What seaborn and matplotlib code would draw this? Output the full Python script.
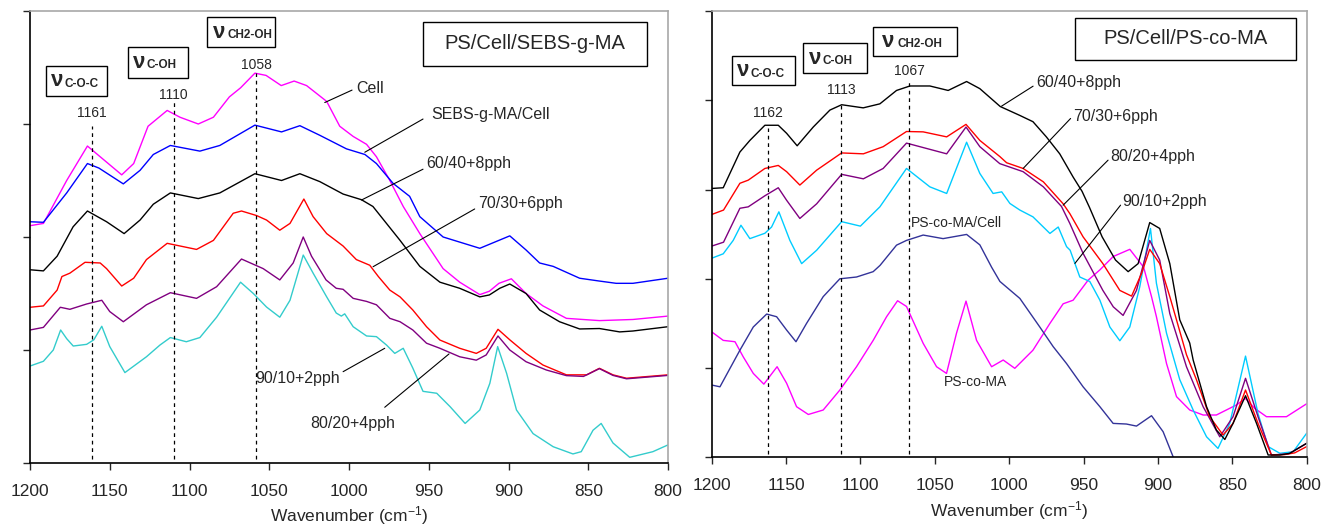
import matplotlib
matplotlib.use("Agg")
import matplotlib.pyplot as plt
from matplotlib.patches import Rectangle
import pandas as pd
import seaborn as sns

# ---------------- PS/Cell/SEBS-g-MA spectra (absorbance, arbitrary offset units) ----------------
sebs_cell_wn = [1200, 1191.6, 1177, 1164, 1156, 1142.5, 1135, 1126, 1114, 1106, 1094.5, 1085, 1075, 1068,
                1059, 1052, 1042.5, 1034.4, 1026.6, 1014, 1005.8, 997.4, 989, 982.8, 974.4, 966, 955.6, 941,
                930.6, 918, 912, 906, 898.2, 889, 878.4, 863.7, 843, 822, 800]
sebs_cell_abs = [2.10, 2.12, 2.50, 2.805, 2.71, 2.55, 2.65, 2.98, 3.12, 3.06, 3.00, 3.06, 3.24, 3.32,
                 3.45, 3.43, 3.34, 3.38, 3.34, 3.20, 2.98, 2.89, 2.82, 2.71, 2.50, 2.27, 2.03, 1.72,
                 1.60, 1.49, 1.52, 1.59, 1.63, 1.50, 1.39, 1.28, 1.26, 1.27, 1.30]

sebs_blend_wn = [1200, 1191.6, 1177, 1164, 1156.8, 1141.5, 1131, 1122.7, 1112, 1093.5, 1081, 1059, 1042.3,
                 1030.8, 1018.3, 1001.6, 990, 982.8, 972.4, 962, 955.6, 941, 918, 899.2, 889, 880.5, 872,
                 855.4, 843, 832.5, 822, 800]
sebs_blend_abs = [2.135, 2.13, 2.39, 2.65, 2.61, 2.47, 2.59, 2.73, 2.81, 2.76, 2.81, 2.99, 2.93,
                  2.985, 2.90, 2.78, 2.73, 2.65, 2.475, 2.36, 2.18, 2.00, 1.90, 2.01, 1.885, 1.77, 1.74,
                  1.635, 1.61, 1.59, 1.59, 1.635]

sebs_60_wn = [1200, 1191.6, 1183, 1173, 1164, 1152, 1141, 1131, 1122.7, 1112, 1094.5, 1081, 1059, 1042.3,
              1030.8, 1018.3, 1003.7, 992.2, 985, 976.5, 968, 955.6, 943, 930.6, 918, 912, 905.5, 899.2,
              889, 880.5, 868, 855.4, 843, 830.3, 822, 800]
sebs_60_abs = [1.71, 1.70, 1.83, 2.09, 2.23, 2.135, 2.03, 2.15, 2.29, 2.39, 2.34, 2.39, 2.56, 2.50,
               2.56, 2.49, 2.38, 2.33, 2.27, 2.12, 1.97, 1.74, 1.60, 1.546, 1.47, 1.487, 1.546, 1.584,
               1.50, 1.354, 1.25, 1.186, 1.19, 1.16, 1.168, 1.206]

sebs_70_wn = [1200, 1191.6, 1183, 1180, 1175, 1165.5, 1156, 1152, 1142.5, 1135, 1127, 1114, 1095.6, 1085,
              1072.6, 1067.4, 1058, 1051.7, 1043.4, 1037, 1028.3, 1022.5, 1014, 1003.7, 995.4, 987, 981.6,
              974.4, 968, 960, 951.4, 943, 930.6, 920.2, 914, 906.6, 899.2, 889, 878.4, 863.7, 851, 843,
              834.5, 826, 800]
sebs_70_abs = [1.378, 1.39, 1.53, 1.65, 1.68, 1.776, 1.77, 1.72, 1.566, 1.635, 1.80, 1.944, 1.89, 1.97,
               2.21, 2.23, 2.19, 2.15, 2.06, 2.12, 2.336, 2.18, 2.03, 1.92, 1.80, 1.75, 1.65,
               1.53, 1.47, 1.354, 1.206, 1.088, 1.015, 0.97, 1.015, 1.183, 1.09, 0.97, 0.867, 0.78, 0.78, 0.838,
               0.78, 0.75, 0.78]

sebs_80_wn = [1200, 1191.6, 1181, 1175, 1164.5, 1155, 1150, 1141.5, 1127, 1112, 1095.6, 1083, 1067.4, 1053.8,
              1043.4, 1035, 1028.7, 1023.5, 1014.4, 1008, 1003.7, 997.4, 989, 982.8, 974.4, 968, 960, 951.4,
              943, 930.6, 920.2, 914, 906.6, 899.2, 889, 876.3, 863.7, 853, 843, 834.5, 826, 800]
sebs_80_abs = [1.177, 1.20, 1.378, 1.36, 1.407, 1.44, 1.34, 1.25, 1.40, 1.507, 1.457, 1.56, 1.805, 1.72,
               1.62, 1.77, 2.00, 1.83, 1.62, 1.546, 1.537, 1.457, 1.43, 1.40, 1.28, 1.25, 1.177, 1.06,
               1.015, 0.94, 0.91, 0.956, 1.124, 1.0, 0.896, 0.823, 0.773, 0.766, 0.835, 0.775, 0.745, 0.775]

sebs_90_wn = [1200, 1191.6, 1185.4, 1180.8, 1177, 1172.9, 1164.5, 1160, 1155, 1150, 1140.5, 1127, 1118.5, 1112,
              1102, 1093.5, 1083, 1068, 1060, 1051.7, 1043.4, 1037, 1028.7, 1022.5, 1014, 1008, 1004.8, 1002.7,
              997.4, 989, 982.8, 976.5, 971.3, 966, 960, 953.6, 945, 936.6, 927.2, 918, 911.7, 906.8, 901.2,
              895, 884.6, 872, 859.6, 854.4, 847, 841.9, 834.5, 824, 809.5, 800]
sebs_90_abs = [0.858, 0.90, 1.0, 1.177, 1.10, 1.035, 1.05, 1.09, 1.21, 1.03, 0.80, 0.94, 1.044, 1.11,
               1.073, 1.11, 1.29, 1.60, 1.50, 1.38, 1.29, 1.44, 1.84, 1.68, 1.47, 1.327, 1.30, 1.32,
               1.206, 1.124, 1.118, 1.044, 0.97, 1.015, 0.84, 0.634, 0.617, 0.498, 0.35, 0.469, 0.705, 1.03, 0.794,
               0.469, 0.26, 0.144, 0.08, 0.10, 0.29, 0.35, 0.177, 0.05, 0.10, 0.16]

# ---------------- PS/Cell/PS-co-MA spectra ----------------
psma_60_wn = [1200, 1192.2, 1181, 1174.3, 1164.2, 1155.2, 1149.6, 1142.5, 1131.7, 1120.5, 1112.6, 1098.1, 1086.9,
              1075.7, 1066.7, 1053.3, 1041, 1028.6, 1019.7, 1006, 992.8, 984, 975, 966, 957, 951, 946, 937.5,
              928.5, 920, 913.3, 905.5, 898.8, 892, 885.3, 878.6, 876.3, 867.3, 860.7, 855, 849.5, 841.1, 833.7,
              825.9, 818, 811.3, 800]
psma_60_abs = [3.012, 3.02, 3.42, 3.55, 3.72, 3.72, 3.63, 3.49, 3.70, 3.89, 3.95, 3.915, 3.96,
               4.11, 4.16, 4.16, 4.11, 4.21, 4.13, 3.93, 3.83, 3.76, 3.59, 3.40, 3.14, 2.98, 2.80, 2.47,
               2.21, 2.08, 2.17, 2.63, 2.564, 2.17, 1.54, 1.28, 1.09, 0.567, 0.306, 0.20, 0.38, 0.69, 0.38,
               0.026, 0.026, 0.045, 0.157]

psma_70_wn = [1200, 1192, 1181, 1175.4, 1164.2, 1155.2, 1149.6, 1140.7, 1129.4, 1112.6, 1098, 1084.7, 1069,
              1057.8, 1042, 1029, 1019.7, 1006.3, 1001.7, 990.6, 977, 963.7, 959.2, 950.3, 937, 925.6, 917.7,
              911, 905.5, 898.8, 892, 887.5, 880.8, 874.1, 865.2, 856.2, 849.5, 841.1, 832.7, 823.7, 815, 808, 800]
psma_70_abs = [2.72, 2.77, 3.07, 3.105, 3.236, 3.27, 3.20, 3.05, 3.217, 3.41, 3.40, 3.48, 3.65,
               3.646, 3.59, 3.73, 3.55, 3.37, 3.30, 3.236, 3.086, 2.84, 2.73, 2.47, 2.17, 1.87, 1.806,
               2.06, 2.33, 2.17, 1.80, 1.54, 1.15, 0.87, 0.455, 0.25, 0.38, 0.754, 0.38, 0.026, 0.03, 0.05, 0.12]

psma_80_wn = [1200, 1192, 1181, 1175.4, 1164.2, 1155.2, 1149.6, 1140.7, 1129.4, 1112.6, 1098, 1084.7, 1069,
              1042, 1029, 1019.7, 1006.3, 990.6, 977, 964.8, 959.2, 950.3, 937, 930, 923.4, 914.4, 905.5,
              898.8, 892, 880.8, 869.6, 858.4, 849.5, 841.1, 832.7, 823.7, 812, 800]
psma_80_abs = [2.366, 2.41, 2.79, 2.806, 2.93, 3.02, 2.88, 2.676, 2.84, 3.17, 3.12, 3.236, 3.52,
               3.40, 3.70, 3.48, 3.29, 3.20, 3.03, 2.81, 2.62, 2.285, 1.87, 1.686, 1.59, 1.87, 2.43,
               2.21, 1.61, 1.015, 0.567, 0.23, 0.455, 0.885, 0.455, 0.026, 0.04, 0.157]

psma_90_wn = [1200, 1192.2, 1185.5, 1180.3, 1174.3, 1164.2, 1159.7, 1154.8, 1147.4, 1139.5, 1129.4, 1112.6, 1100,
              1086.9, 1069, 1053.3, 1042, 1028.6, 1019.7, 1010.8, 1005, 999.5, 992.8, 984, 972.6, 967, 961.4,
              959, 952.5, 945.8, 939, 932.3, 925.6, 918.9, 912.2, 905, 901, 894.2, 885.3, 876.3, 867.3, 859.6,
              851.7, 841.1, 832.7, 825.9, 818, 809, 800]
psma_90_abs = [2.23, 2.28, 2.43, 2.60, 2.45, 2.51, 2.58, 2.75, 2.43, 2.17, 2.32, 2.64, 2.59,
               2.806, 3.236, 3.03, 2.956, 3.53, 3.18, 2.956, 2.974, 2.844, 2.77, 2.694, 2.508, 2.58, 2.36,
               2.32, 2.02, 1.97, 1.76, 1.46, 1.306, 1.46, 1.91, 2.564, 1.95, 1.39, 0.87, 0.53, 0.23, 0.10,
               0.38, 1.134, 0.49, 0.12, 0.045, 0.063, 0.27]

psma_cell_wn = [1200, 1194.4, 1181, 1172, 1163, 1156.3, 1149.6, 1143.3, 1136.2, 1125, 1113.8, 1102.6, 1091.4,
                1086.8, 1080.2, 1075.7, 1069, 1057.8, 1044.4, 1028.6, 1019.7, 1011.8, 1006.2, 992.8, 979.4,
                970.4, 961.4, 950.3, 939, 930.1, 921.2, 914.4, 904.3, 896.5, 889.8, 885]
psma_cell_abs = [0.81, 0.79, 1.20, 1.46, 1.605, 1.575, 1.426, 1.295, 1.50, 1.80, 2.00, 2.02, 2.08,
                 2.15, 2.285, 2.377, 2.43, 2.49, 2.45, 2.497, 2.38, 2.13, 1.97, 1.78, 1.46,
                 1.24, 1.05, 0.79, 0.567, 0.38, 0.373, 0.35, 0.466, 0.287, 0.007, -0.15]

psma_neat_wn = [1200, 1192.2, 1184.3, 1178.8, 1172, 1164.9, 1156, 1149.6, 1142.9, 1135, 1125, 1113.8, 1102.6,
                1091.4, 1082.4, 1075, 1069, 1057.8, 1048.8, 1042.1, 1035.4, 1029, 1021.9, 1011.8, 1004, 996.2,
                984, 972.6, 963.7, 957, 946.9, 939, 930, 918.9, 909.6, 904.3, 901, 894.2, 887.5, 878.6, 869.6,
                860.7, 847.3, 841.1, 835, 827, 813.6, 800]
psma_neat_abs = [1.406, 1.31, 1.295, 1.127, 0.94, 0.82, 1.015, 0.83, 0.567, 0.48, 0.53, 0.754, 1.015,
                 1.31, 1.575, 1.754, 1.69, 1.277, 1.015, 0.94, 1.39, 1.75, 1.31, 1.015, 1.09, 0.997,
                 1.20, 1.50, 1.72, 1.76, 1.985, 2.10, 2.25, 2.33, 2.13, 1.80, 1.575, 1.05, 0.68, 0.53, 0.474,
                 0.474, 0.586, 0.66, 0.55, 0.455, 0.455, 0.60]

x_ticks = [1200, 1150, 1100, 1050, 1000, 950, 900, 850, 800]

sns.set_style("white")
plt.rcParams["font.family"] = ["Liberation Sans", "DejaVu Sans"]
plt.rcParams["mathtext.default"] = "regular"
plt.rcParams["lines.solid_joinstyle"] = "round"
plt.rcParams["lines.solid_capstyle"] = "round"

fig = plt.figure(figsize=(13.22, 5.29), dpi=100)
ax1 = fig.add_axes([0.0227, 0.1248, 0.4826, 0.8544])
ax2 = fig.add_axes([0.5383, 0.1355, 0.4501, 0.8437])


def long_frame(series):
    rows = []
    for name, wn, ab in series:
        rows.append(pd.DataFrame({"series": name, "wn": wn, "abs": ab}))
    return pd.concat(rows, ignore_index=True)


left_series = [
    ("Cell", sebs_cell_wn, sebs_cell_abs, "#FF00FF"),
    ("SEBS-g-MA/Cell", sebs_blend_wn, sebs_blend_abs, "#0000FF"),
    ("60/40+8pph", sebs_60_wn, sebs_60_abs, "#000000"),
    ("70/30+6pph", sebs_70_wn, sebs_70_abs, "#FF0000"),
    ("80/20+4pph", sebs_80_wn, sebs_80_abs, "#800080"),
    ("90/10+2pph", sebs_90_wn, sebs_90_abs, "#33CCCC"),
]
right_series = [
    ("PS-co-MA", psma_neat_wn, psma_neat_abs, "#FF00FF"),
    ("PS-co-MA/Cell", psma_cell_wn, psma_cell_abs, "#333399"),
    ("90/10+2pph", psma_90_wn, psma_90_abs, "#00CCFF"),
    ("80/20+4pph", psma_80_wn, psma_80_abs, "#800080"),
    ("70/30+6pph", psma_70_wn, psma_70_abs, "#FF0000"),
    ("60/40+8pph", psma_60_wn, psma_60_abs, "#000000"),
]

for ax, series in ((ax1, left_series), (ax2, right_series)):
    df = long_frame([(n, w, a) for n, w, a, _ in series])
    palette = {n: c for n, _, _, c in series}
    sns.lineplot(data=df, x="wn", y="abs", hue="series", palette=palette, hue_order=[s[0] for s in series],
                 estimator=None, sort=False, legend=False, lw=1.0, ax=ax)

# ---------------- axes styling ----------------
for ax, ytop in ((ax1, 4), (ax2, 5)):
    ax.set_xlim(1200, 800)
    ax.set_ylim(0, ytop)
    ax.set_xticks(x_ticks)
    ax.set_xticklabels([str(t) for t in x_ticks])
    ax.set_yticks(range(0, ytop + 1))
    ax.tick_params(axis="y", which="both", direction="out", length=5, width=1, left=True, labelleft=False)
    ax.tick_params(axis="x", direction="out", length=5, width=1, bottom=True, labelsize=12.5, pad=10)
    ax.set_ylabel("")
    ax.set_xlabel("Wavenumber (cm$^{-1}$)", fontsize=12.5, labelpad=4)
    for side in ("left", "bottom"):
        ax.spines[side].set_color("black")
        ax.spines[side].set_linewidth(1.2)
    for side in ("top", "right"):
        ax.spines[side].set_color("#A8A8A8")
        ax.spines[side].set_linewidth(1.2)


def boxed(ax, x0, x1, y0, y1):
    ax.add_patch(Rectangle((x0, y0), x1 - x0, y1 - y0, fill=False, ec="black", lw=1.0, zorder=5,
                           clip_on=False))


def nu_box(ax, x0, x1, y0, y1, sub):
    boxed(ax, x0, x1, y0, y1)
    xm = x0 - 0.18 * (x0 - x1)
    ym = 0.5 * (y0 + y1)
    ax.text(xm, ym, "ν", fontsize=16, fontweight="bold", ha="center", va="center", zorder=6)
    ax.text(xm - 0.12 * (x0 - x1), ym - 0.1 * (y1 - y0), sub, fontsize=8.5, fontweight="bold",
            ha="left", va="center", zorder=6)


def dashed(ax, wn, top, label, label_y):
    ax.plot([wn, wn], [0.035, top], color="black", lw=0.9, ls=(0, (3, 3)), zorder=4)
    ax.text(wn, label_y, label, fontsize=10, ha="center", va="center")


def leader(ax, p0, p1):
    ax.plot([p0[0], p1[0]], [p0[1], p1[1]], color="black", lw=0.8, zorder=4)


# ---------------- left panel annotations ----------------
boxed(ax1, 953.6, 813.2, 3.516, 3.905)
ax1.text(883.4, 3.71, "PS/Cell/SEBS-g-MA", fontsize=14.5, ha="center", va="center")
nu_box(ax1, 1190.2, 1151.6, 3.25, 3.516, "C-O-C")
nu_box(ax1, 1138.4, 1100.8, 3.41, 3.68, "C-OH")
nu_box(ax1, 1088.9, 1046.3, 3.68, 3.944, "CH2-OH")
dashed(ax1, 1161, 2.98, "1161", 3.10)
dashed(ax1, 1110, 3.21, "1110", 3.26)
dashed(ax1, 1058, 3.45, "1058", 3.52)

left_labels = [
    ("Cell", (1015.2, 3.19), (998.1, 3.30), (995.7, 3.31)),
    ("SEBS-g-MA/Cell", (990.1, 2.75), (953.6, 3.044), (948.3, 3.08)),
    ("60/40+8pph", (992.2, 2.327), (953.6, 2.60), (951.4, 2.646)),
    ("70/30+6pph", (984.9, 1.737), (921.2, 2.248), (919.1, 2.30)),
    ("90/10+2pph", (977.6, 1.015), (1003.7, 0.808), (1059.0, 0.75)),
    ("80/20+4pph", (937.3, 0.965), (977.6, 0.493), (1024.6, 0.345)),
]
for text, p0, p1, tpos in left_labels:
    leader(ax1, p0, p1)
    ax1.text(tpos[0], tpos[1], text, fontsize=11.5, ha="left", va="center")

# ---------------- right panel annotations ----------------
boxed(ax2, 955.8, 807.5, 4.449, 4.927)
ax2.text(881.6, 4.69, "PS/Cell/PS-co-MA", fontsize=14.5, ha="center", va="center")
nu_box(ax2, 1186.6, 1144.0, 4.169, 4.494, "C-O-C")
nu_box(ax2, 1138.4, 1095.8, 4.307, 4.636, "C-OH")
nu_box(ax2, 1091.8, 1035.3, 4.494, 4.822, "CH2-OH")
dashed(ax2, 1162, 3.69, "1162", 3.86)
dashed(ax2, 1113, 3.96, "1113", 4.12)
dashed(ax2, 1067, 4.225, "1067", 4.33)

right_labels = [
    ("60/40+8pph", (1005.1, 3.934), (983.9, 4.158), (981.6, 4.195)),
    ("70/30+6pph", (990.6, 3.236), (958.7, 3.796), (957.0, 3.814)),
    ("80/20+4pph", (963.7, 2.825), (933.5, 3.329), (932.3, 3.374)),
    ("90/10+2pph", (955.8, 2.172), (925.1, 2.825), (923.8, 2.87)),
]
for text, p0, p1, tpos in right_labels:
    leader(ax2, p0, p1)
    ax2.text(tpos[0], tpos[1], text, fontsize=11.5, ha="left", va="center")
ax2.text(1066.3, 2.627, "PS-co-MA/Cell", fontsize=10, ha="left", va="center")
ax2.text(1043.9, 0.84, "PS-co-MA", fontsize=10, ha="left", va="center")

fig.savefig("out.png", dpi=100)
